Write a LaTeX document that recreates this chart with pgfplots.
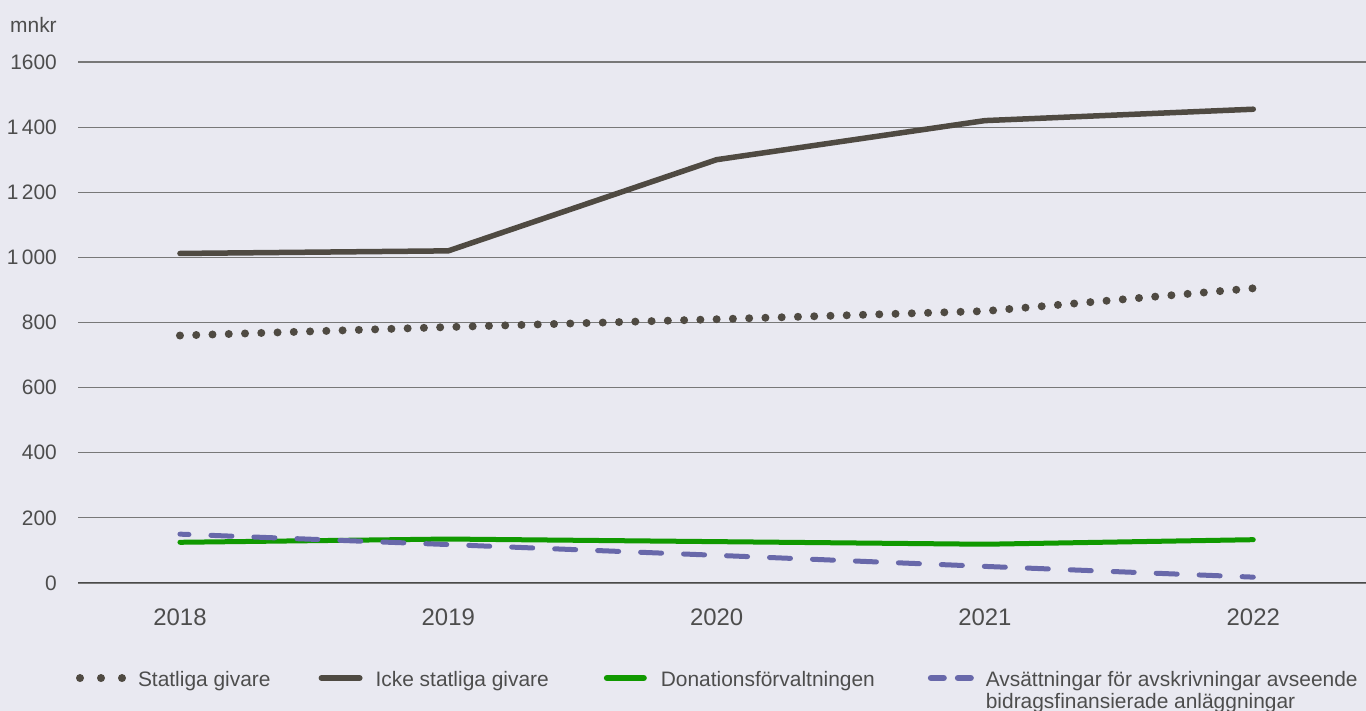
\documentclass[border=0pt]{standalone}
\usepackage{pgfplots}
\pgfplotsset{compat=1.18}
\usepackage{fontspec}
\setmainfont{Liberation Sans}
\definecolor{bgc}{RGB}{233,233,241}
\definecolor{txt}{RGB}{77,77,77}
\definecolor{dk}{RGB}{79,74,66}
\definecolor{grn}{RGB}{16,153,0}
\definecolor{prp}{RGB}{104,104,170}
\definecolor{grd}{RGB}{120,120,120}
\definecolor{zl}{RGB}{74,74,74}
\begin{document}
\begin{tikzpicture}
\useasboundingbox (0,0) rectangle (1366bp,711bp);
\fill[bgc] (0,0) rectangle (1366bp,711bp);
\node[anchor=west, inner sep=0pt, text=txt, font=\fontsize{21}{25}\selectfont] at (10bp,686bp) {mnkr};
\begin{axis}[
  scale only axis, width=1288bp, height=521bp,
  at={(78bp,128bp)}, anchor=south west,
  xmin=2017.62, xmax=2022.42, ymin=0, ymax=1600,
  axis line style={draw=none},
  ytick={0,200,...,1600},
  yticklabels={0,200,400,600,800,1\,000,1\,200,1\,400,1600},
  xtick={2018,2019,2020,2021,2022},
  xticklabels={2018,2019,2020,2021,2022},
  major tick length=0pt,
  ymajorgrids, grid style={grd, line width=1.2bp},
  yticklabel style={anchor=east, inner sep=0pt, xshift=-21bp, text=txt, font=\fontsize{21}{25}\selectfont},
  xticklabel style={anchor=north, inner sep=0pt, yshift=-26bp, text=txt, font=\fontsize{24}{28}\selectfont},
  legend columns=4,
  legend style={at={(0,0)}, anchor=north west, xshift=-2bp, yshift=-87bp,
    draw=none, fill=none, inner sep=0pt, outer sep=0pt,
    font=\fontsize{21}{23}\selectfont, text=txt,
    cells={anchor=base west},
    nodes={inner sep=0pt, text depth=0pt},
    /tikz/every odd column/.append style={column sep=0pt},
    /tikz/every even column/.append style={column sep=48bp}},
]
\draw[zl, line width=2.5bp] (rel axis cs:0,0) -- (rel axis cs:1,0);
\addplot[dk, line width=8bp, line cap=round, dash pattern=on 0bp off 16.27bp,
  legend image code/.code={\path[draw=none,fill=none] (0bp,0bp) -- (62bp,0bp);
    \draw[dk, line width=8bp, line cap=round, dash pattern=on 0bp off 21bp, dash phase=0bp] (4bp,8bp) -- (47bp,8bp);}]
  coordinates {(2018,760) (2019,786) (2020,810) (2021,835) (2022,905)};
\addlegendentry{Statliga givare}
\addplot[dk, line width=5.5bp, line cap=round, line join=round,
  legend image code/.code={\path[draw=none,fill=none] (0bp,0bp) -- (57bp,0bp);
    \draw[dk, line width=6bp, line cap=round] (3bp,8bp) -- (41bp,8bp);}]
  coordinates {(2018,1012) (2019,1020) (2020,1300) (2021,1420) (2022,1455)};
\addlegendentry{Icke statliga givare}
\addplot[grn, line width=5bp, line cap=round, line join=round,
  legend image code/.code={\path[draw=none,fill=none] (-7bp,0bp) -- (57bp,0bp);
    \draw[grn, line width=6bp, line cap=round] (3bp,8bp) -- (40bp,8bp);}]
  coordinates {(2018,125) (2019,135) (2020,127) (2021,119) (2022,133)};
\addlegendentry{Donationsförvaltningen}
\addplot[prp, line width=5bp, line cap=round, dash pattern=on 21bp off 22bp, dash phase=12bp,
  legend image code/.code={\path[draw=none,fill=none] (-5bp,0bp) -- (58bp,0bp);
    \draw[prp, line width=6bp, line cap=round, dash pattern=on 13bp off 14bp, dash phase=0bp] (3bp,8bp) -- (43bp,8bp);}]
  coordinates {(2018,150) (2019,118) (2020,85) (2021,51) (2022,18)};
\addlegendentry{{\begin{tabular}[t]{@{}l@{}}Avsättningar för avskrivningar avseende\\bidragsfinansierade anläggningar\end{tabular}}}
\end{axis}
\end{tikzpicture}
\end{document}
